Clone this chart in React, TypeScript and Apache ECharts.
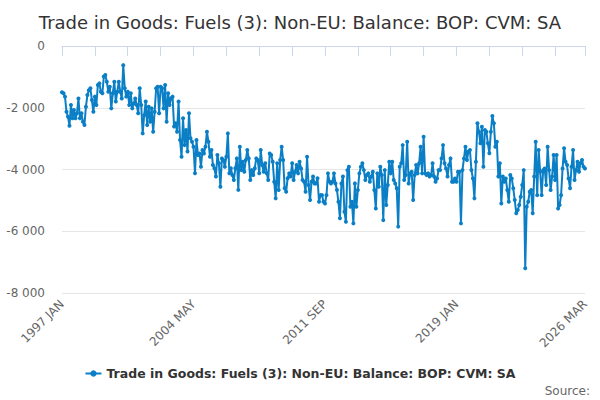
import React, { useEffect, useRef } from "react";
import * as echarts from "echarts";

const TITLE = "Trade in Goods: Fuels (3): Non-EU: Balance: BOP: CVM: SA";
const SERIES_NAME = "Trade in Goods: Fuels (3): Non-EU: Balance: BOP: CVM: SA";
const MONTH_NAMES = ["JAN", "FEB", "MAR", "APR", "MAY", "JUN", "JUL", "AUG", "SEP", "OCT", "NOV", "DEC"];
const START_YEAR = 1997;
const MONTH_COUNT = 351; // 1997 JAN .. 2026 MAR
const Y_TICKS = [-8000, -6000, -4000, -2000, 0];

// 1997 JAN - 2002 OCT
const values1997 = [
  -1500, -1530, -1640, -2130, -2290, -2580, -1910, -2340, -2070, -2340,
  -2180, -1700, -2340, -2180, -2450, -2560, -1970, -1590, -1430, -1370,
  -1750, -2130, -1640, -1910, -1260, -1210, -1480, -1530, -990, -940,
  -1160, -1480, -1320, -2020, -1530, -1160, -1800, -1480, -1160, -1480,
  -1700, -620, -1370, -1640, -1480, -1910, -1530, -2020, -1860, -1700,
  -1910, -2180, -1370, -1910, -2830, -2240, -1800, -2560, -1970, -2450,
  -2020, -2780, -2130, -1370, -1320, -2180, -1320, -1370, -2020, -1260,
];
// 2002 NOV - 2008 AUG
const values2002 = [
  -2450, -1530, -1910, -1695, -1640, -2610, -2500, -2775, -1800, -3045,
  -3585, -2340, -3210, -2720, -3420, -2180, -2990, -3100, -3260, -4120,
  -3045, -3530, -3480, -3910, -3370, -3480, -3260, -2775, -3100, -3585,
  -3370, -3855, -3960, -4230, -3530, -3800, -4560, -3640, -3690, -3910,
  -3585, -2830, -4120, -3960, -4180, -4340, -3960, -3640, -4660, -3260,
  -4020, -3750, -4070, -3690, -3370, -3640, -4340, -4020, -4180, -3960,
  -3640, -3690, -4120, -3370, -3855, -4070, -3800, -4120, -4340, -3480,
];
// 2008 SEP - 2014 JUN
const values2008 = [
  -3530, -3750, -4395, -4935, -3800, -4665, -3695, -3260, -3695, -4610,
  -4720, -4285, -4125, -4230, -3800, -4340, -4070, -3855, -4125, -3750,
  -3965, -4340, -4395, -4720, -3585, -4500, -4990, -4395, -4230, -4450,
  -4450, -4285, -5045, -4830, -4830, -5045, -5100, -4830, -4125, -4395,
  -4450, -4395, -4125, -4450, -4665, -5045, -5580, -4450, -4230, -5365,
  -5690, -4020, -3910, -5205, -5045, -5745, -4450, -5205, -4665, -4125,
  -3910, -3800, -4020, -4340, -4180, -4125, -4395, -4230, -4070, -4665,
];
// 2014 JUL - 2020 APR
const values2014 = [
  -5260, -4125, -4560, -3910, -4180, -5640, -4020, -5150, -4500, -3750,
  -4125, -3750, -4340, -4450, -4610, -5850, -3910, -3800, -3210, -4340,
  -4180, -3100, -4450, -4125, -4070, -4990, -4180, -3855, -4125, -3800,
  -3260, -4125, -2940, -4125, -4180, -4125, -4230, -4180, -3800, -4230,
  -4395, -4290, -4020, -4020, -3640, -3210, -3800, -3965, -4230, -3855,
  -3640, -4395, -4395, -4290, -4395, -4070, -4070, -5745, -4020, -3640,
  -3260, -3695, -3420, -3370, -4020, -4290, -4935, -3750, -2505, -2775,
];
// 2020 MAY - 2026 MAR
const values2020 = [
  -3150, -2615, -3910, -2720, -2775, -3150, -3475, -2775, -2270, -2505,
  -3260, -3100, -4230, -3800, -5100, -4230, -4395, -4290, -4665, -5045,
  -4180, -4290, -4610, -4990, -5420, -5310, -5150, -4880, -4500, -4020,
  -7200, -5205, -5045, -4720, -4665, -5420, -4230, -3100, -4830, -3370,
  -4070, -4830, -4020, -3965, -4500, -3260, -4020, -4665, -4230, -3530,
  -4340, -3530, -5260, -5150, -4830, -3965, -3315, -3750, -3855, -4290,
  -4610, -3910, -3370, -4340, -4020, -3750, -4070, -3800, -3695, -3910,
  -3965,
];

const seriesValues = [...values1997, ...values2002, ...values2008, ...values2014, ...values2020];

const categories = Array.from(
  { length: MONTH_COUNT },
  (_, i) => `${START_YEAR + Math.floor(i / 12)} ${MONTH_NAMES[i % 12]}`
);

const FONT = "DejaVu Sans";
const LINE_COLOR = "#0a7fc6";

function formatThousands(v: number): string {
  const s = String(Math.abs(v)).replace(/\B(?=(\d{3})+(?!\d))/g, " ");
  return (v < 0 ? "-" : "") + s;
}

export default function App() {
  const ref = useRef<HTMLDivElement>(null);
  useEffect(() => {
    if (!ref.current) return;
    const chart = echarts.init(ref.current, null, { renderer: "svg" });
    const last = MONTH_COUNT - 1;
    chart.setOption({
      animation: false,
      backgroundColor: "#ffffff",
      title: {
        text: TITLE,
        left: "center",
        top: 8,
        textStyle: { fontFamily: FONT, fontSize: 18, fontWeight: "normal", color: "#333333" },
      },
      grid: { left: 62, right: 15, top: 46, bottom: 107 },
      legend: {
        bottom: 15,
        left: "center",
        itemWidth: 16,
        itemHeight: 8,
        itemGap: 6,
        textStyle: { fontFamily: FONT, fontSize: 12.5, fontWeight: "bold", color: "#333333" },
        data: [SERIES_NAME],
      },
      graphic: [
        {
          type: "text",
          right: 10,
          top: 385,
          style: { text: "Source:", fontFamily: FONT, fontSize: 12, fill: "#666666" },
        },
      ],
      xAxis: {
        type: "category",
        data: categories,
        boundaryGap: false,
        axisLine: { lineStyle: { color: "#ccd6eb" } },
        axisTick: {
          length: 10,
          interval: (i: number) => i % 22 === 0 || i === last,
          lineStyle: { color: "#ccd6eb" },
        },
        axisLabel: {
          interval: (i: number) => i % 88 === 0 || i === last,
          rotate: 45,
          margin: 9,
          fontFamily: FONT,
          fontSize: 12,
          color: "#666666",
        },
        splitLine: { show: false },
      },
      yAxis: {
        type: "value",
        min: Y_TICKS[0],
        max: Y_TICKS[Y_TICKS.length - 1],
        interval: 2000,
        axisLine: { show: false },
        axisTick: { show: false },
        axisLabel: {
          margin: 17,
          fontFamily: FONT,
          fontSize: 12,
          color: "#666666",
          formatter: (v: number) => formatThousands(v),
        },
        splitLine: { lineStyle: { color: "#e6e6e6" } },
      },
      series: [
        {
          name: SERIES_NAME,
          type: "line",
          data: seriesValues,
          symbol: "circle",
          symbolSize: 4,
          showAllSymbol: true,
          itemStyle: { color: LINE_COLOR },
          lineStyle: { color: LINE_COLOR, width: 2 },
        },
      ],
    });
    return () => chart.dispose();
  }, []);
  return (
    <div
      ref={ref}
      style={{ position: "fixed", left: 0, top: 0, width: 600, height: 400, background: "#fff" }}
    />
  );
}
